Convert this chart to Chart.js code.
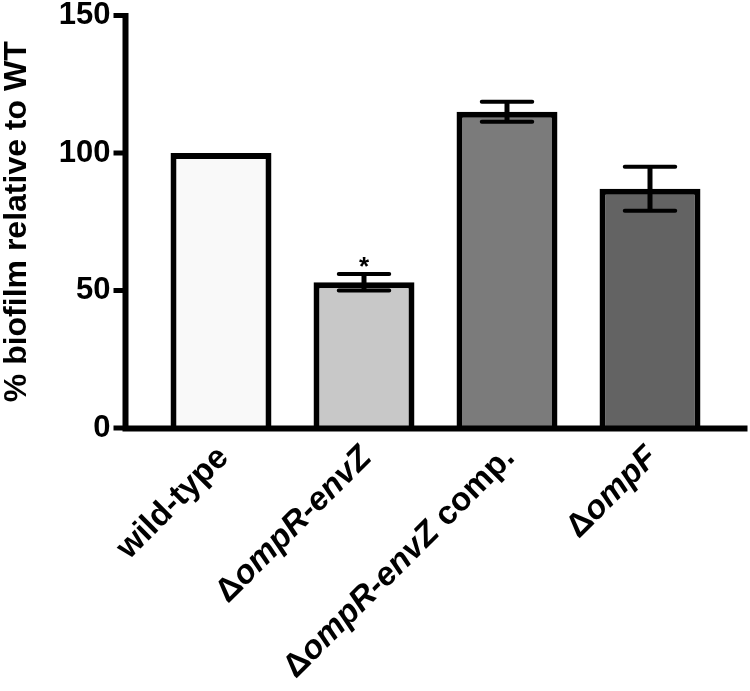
<!DOCTYPE html>
<html>
<head>
<meta charset="utf-8">
<script src="https://cdn.jsdelivr.net/npm/chart.js@4.4.0/dist/chart.umd.min.js"></script>
<style>
  html, body { margin: 0; padding: 0; background: #fff; }
  #chart { display: block; }
</style>
</head>
<body>
<canvas id="chart" width="750" height="691"></canvas>
<script>
// data
const categories = ['wild-type', 'ΔompR-envZ', 'ΔompR-envZ comp.', 'ΔompF'];
const biofilm = [100, 53, 115, 87];
const errors = [0, 3, 3.6, 8];
const significant = [false, true, false, false];
const yTicks = [0, 50, 100, 150];
const barColors = ['#f9f9f9', '#c8c8c8', '#7b7b7b', '#636363'];

const FONT = '"Liberation Sans", Arial, sans-serif';

// Prism style axes: y axis sits a bit left of the first bar, x axis runs past the last one
const axesPlugin = {
    id: 'prismAxes',
    afterDatasetsDraw(chart) {
        const { ctx, chartArea, scales: { y } } = chart;
        const axisX = chartArea.left - 24;
        const axisY = y.getPixelForValue(0) + 0.5;
        ctx.save();
        ctx.strokeStyle = '#000';
        ctx.lineCap = 'butt';
        ctx.lineWidth = 6;
        ctx.beginPath();
        ctx.moveTo(axisX, y.getPixelForValue(150) - 2.5);
        ctx.lineTo(axisX, axisY);
        ctx.moveTo(axisX - 3, axisY);
        ctx.lineTo(chartArea.right + 26, axisY);
        ctx.stroke();
        ctx.lineWidth = 5;
        yTicks.forEach(v => {
            const py = y.getPixelForValue(v);
            ctx.beginPath();
            ctx.moveTo(axisX - 12, py);
            ctx.lineTo(axisX, py);
            ctx.stroke();
        });
        ctx.restore();
    }
};

// Error bars (mean +/- error) and significance star
const errorBarPlugin = {
    id: 'errorBars',
    afterDatasetsDraw(chart) {
        const { ctx, scales: { y } } = chart;
        const meta = chart.getDatasetMeta(0);
        ctx.save();
        ctx.strokeStyle = '#000';
        ctx.fillStyle = '#000';
        meta.data.forEach((bar, i) => {
            const err = errors[i];
            if (!err) return;
            const top = y.getPixelForValue(biofilm[i] + err);
            const bottom = y.getPixelForValue(biofilm[i] - err);
            const half = bar.width * 0.25;
            ctx.lineCap = 'butt';
            ctx.lineWidth = 5;
            ctx.beginPath();
            ctx.moveTo(bar.x, top);
            ctx.lineTo(bar.x, bottom);
            ctx.stroke();
            ctx.lineCap = 'round';
            ctx.lineWidth = 4;
            ctx.beginPath();
            ctx.moveTo(bar.x - half, top);
            ctx.lineTo(bar.x + half, top);
            ctx.moveTo(bar.x - half, bottom);
            ctx.lineTo(bar.x + half, bottom);
            ctx.stroke();
            if (significant[i]) {
                ctx.font = 'bold 26px ' + FONT;
                ctx.textAlign = 'center';
                ctx.textBaseline = 'alphabetic';
                ctx.fillText('*', bar.x, top + 1);
            }
        });
        ctx.restore();
    }
};

// Category labels at 45 degrees, gene names in italics
function labelParts(label) {
    const parts = [];
    let rest = label;
    if (rest.startsWith('Δ')) {
        parts.push({ t: 'Δ', it: false });
        rest = rest.slice(1);
        const sp = rest.indexOf(' ');
        if (sp < 0) {
            parts.push({ t: rest, it: true });
        } else {
            parts.push({ t: rest.slice(0, sp), it: true });
            parts.push({ t: rest.slice(sp), it: false });
        }
    } else {
        parts.push({ t: rest, it: false });
    }
    return parts;
}

const labelPlugin = {
    id: 'rotatedLabels',
    afterDraw(chart) {
        const { ctx, chartArea, scales: { x } } = chart;
        ctx.save();
        ctx.fillStyle = '#000';
        ctx.textBaseline = 'alphabetic';
        ctx.textAlign = 'left';
        categories.forEach((label, i) => {
            const parts = labelParts(label);
            const fonts = parts.map(p => (p.it ? 'italic ' : '') + 'bold 33px ' + FONT);
            let total = 0;
            const widths = parts.map((p, k) => {
                ctx.font = fonts[k];
                const w = ctx.measureText(p.t).width;
                total += w;
                return w;
            });
            ctx.save();
            ctx.translate(x.getPixelForValue(i) + 9, chartArea.bottom + 31);
            ctx.rotate(-Math.PI / 4);
            let cx = -total;
            parts.forEach((p, k) => {
                ctx.font = fonts[k];
                ctx.fillText(p.t, cx, 0);
                cx += widths[k];
            });
            ctx.restore();
        });
        ctx.restore();
    }
};

const biofilmChart = new Chart(document.getElementById('chart'), {
    type: 'bar',
    data: {
        labels: categories,
        datasets: [{
            label: '% biofilm',
            data: biofilm,
            backgroundColor: barColors,
            borderColor: '#000',
            borderWidth: 6,
            borderSkipped: 'start',
            categoryPercentage: 1,
            barPercentage: 0.706
        }]
    },
    options: {
        responsive: false,
        animation: false,
        layout: {
            padding: { top: 15, right: 28.5, bottom: 263, left: 0 }
        },
        plugins: {
            legend: { display: false },
            tooltip: { enabled: false }
        },
        scales: {
            x: {
                grid: { display: false, drawTicks: false },
                border: { display: false },
                ticks: { display: false }
            },
            y: {
                min: 0,
                max: 150,
                afterBuildTicks: scale => {
                    scale.ticks = yTicks.map(v => ({ value: v }));
                },
                afterFit: scale => {
                    scale.width = 149.5;
                },
                // invisible tick marks push the labels left of the drawn axis line
                grid: {
                    display: true,
                    drawOnChartArea: false,
                    drawTicks: true,
                    tickLength: 39,
                    color: 'rgba(0,0,0,0)'
                },
                border: { display: false },
                ticks: {
                    padding: 0,
                    color: '#000',
                    font: { family: FONT, size: 31, weight: 'bold', lineHeight: 1 }
                },
                title: {
                    display: true,
                    text: '% biofilm relative to WT',
                    color: '#000',
                    padding: { top: 0, bottom: 0 },
                    font: { family: FONT, size: 32, weight: 'bold', lineHeight: 1.1 }
                }
            }
        }
    },
    plugins: [axesPlugin, errorBarPlugin, labelPlugin]
});
</script>
</body>
</html>
